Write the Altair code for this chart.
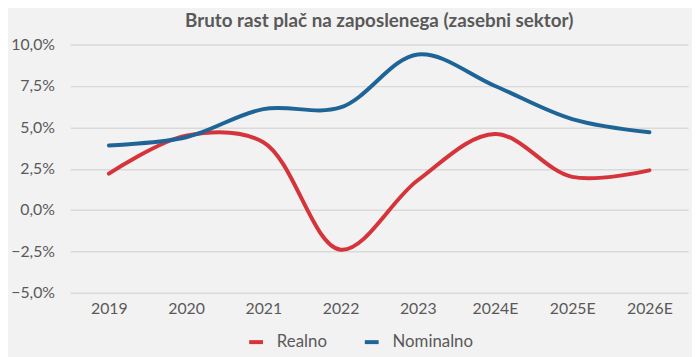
import altair as alt
import pandas as pd

years = ["2019", "2020", "2021", "2022", "2023", "2024E", "2025E", "2026E"]
realno = [2.2, 4.5, 4.1, -2.4, 1.8, 4.6, 2.0, 2.4]
nominalno = [3.9, 4.4, 6.1, 6.2, 9.4, 7.5, 5.5, 4.7]
series_names = ["Realno", "Nominalno"]
series_colors = ["#D5343B", "#1F6497"]

rows = []
for i, y in enumerate(years):
    rows.append({"leto": y, "serija": "Realno", "vrednost": realno[i] / 100})
    rows.append({"leto": y, "serija": "Nominalno", "vrednost": nominalno[i] / 100})
df = pd.DataFrame(rows)

FONT = "Lato"
TXT = "#595959"

chart = (
    alt.Chart(df)
    .mark_line(interpolate="catmull-rom", strokeWidth=4, strokeCap="round")
    .encode(
        x=alt.X(
            "leto:N",
            sort=years,
            scale=alt.Scale(type="point", padding=0.5),
            axis=alt.Axis(
                title=None, labelAngle=0, ticks=False, domain=False,
                labelPadding=8, labelFontSize=16, labelColor=TXT, labelFont=FONT,
            ),
        ),
        y=alt.Y(
            "vrednost:Q",
            scale=alt.Scale(domain=[-0.05, 0.10], nice=False, zero=False),
            axis=alt.Axis(
                title=None, values=[-0.05, -0.025, 0, 0.025, 0.05, 0.075, 0.10],
                labelExpr="replace(format(datum.value*100, '.1f'), '.', ',') + '%'",
                ticks=False, domain=False, labelPadding=16,
                labelFontSize=16, labelColor=TXT, labelFont=FONT,
                gridColor="#D9D9D9", gridWidth=1.5,
            ),
        ),
        color=alt.Color(
            "serija:N",
            scale=alt.Scale(domain=series_names, range=series_colors),
            legend=alt.Legend(
                title=None, orient="none", direction="horizontal",
                legendX=179, legendY=292,
                symbolType="stroke", symbolSize=196, symbolStrokeWidth=4,
                labelFontSize=17, labelColor=TXT, labelFont=FONT,
                labelOffset=12, columnPadding=30,
            ),
        ),
    )
    .properties(
        width=625,
        height=251,
        autosize=alt.AutoSizeParams(type="none"),
        padding={"left": 63, "top": 35, "right": 4, "bottom": 63},
        background="#F2F2F2",
        title=alt.TitleParams(
            "Bruto rast plač na zaposlenega (zasebni sektor)",
            font=FONT, fontSize=19, fontWeight="bold", color=TXT,
            anchor="middle", offset=6,
        ),
    )
    .configure_view(stroke=None)
)

chart.save("out.html", embed_options={"renderer": "svg", "actions": False})
